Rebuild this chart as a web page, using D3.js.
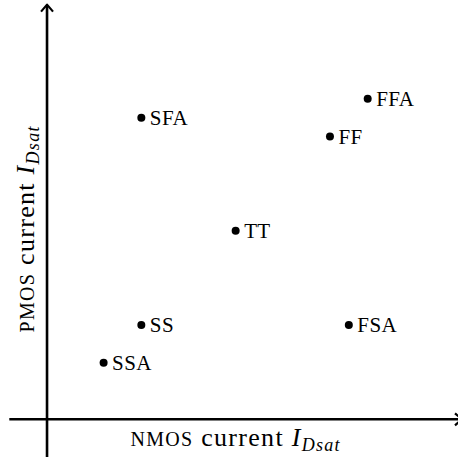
<!DOCTYPE html>
<html>
<head>
<meta charset="utf-8">
<script src="https://cdn.jsdelivr.net/npm/d3@7/dist/d3.min.js"></script>
<style>
  html, body { margin: 0; padding: 0; background: #fff; }
  svg { display: block; }
  text { font-family: "Liberation Serif", "DejaVu Serif", serif; fill: #000; }
</style>
</head>
<body>
<svg id="chart" width="458" height="458"></svg>
<script>
// Process corners: NMOS vs PMOS saturation current (arbitrary units)
const corners = ["SSA", "SS", "SFA", "TT", "FSA", "FF", "FFA"];
const nmosCurrent = [0.6, 1.0, 1.0, 2.0, 3.2, 3.0, 3.4];
const pmosCurrent = [0.6, 1.0, 3.2, 2.0, 1.0, 3.0, 3.4];
const axisDomain = [-0.4, 4.4];

const svg = d3.select("#chart");
const x = d3.scaleLinear().domain(axisDomain).range([9.3, 462]);
const y = d3.scaleLinear().domain(axisDomain).range([457, 4.6]);

const points = corners.map((c, i) => ({ name: c, nx: nmosCurrent[i], py: pmosCurrent[i] }));

const axes = svg.append("g")
  .attr("stroke", "#000")
  .attr("stroke-width", 2.6)
  .attr("fill", "none")
  .attr("stroke-linecap", "butt");

// horizontal axis with open arrowhead
axes.append("line")
  .attr("x1", x(axisDomain[0])).attr("x2", x(axisDomain[1]) - 1.5)
  .attr("y1", y(0)).attr("y2", y(0));
axes.append("path")
  .attr("stroke-linejoin", "round")
  .attr("stroke-width", 2.2)
  .attr("d", `M${x(axisDomain[1]) - 7},${y(0) - 6} L${x(axisDomain[1])},${y(0)} L${x(axisDomain[1]) - 7},${y(0) + 6}`);

// vertical axis with open arrowhead
axes.append("line")
  .attr("x1", x(0)).attr("x2", x(0))
  .attr("y1", y(axisDomain[0])).attr("y2", y(axisDomain[1]) + 1.5);
axes.append("path")
  .attr("stroke-linejoin", "round")
  .attr("stroke-width", 2.2)
  .attr("d", `M${x(0) - 6},${y(axisDomain[1]) + 7} L${x(0)},${y(axisDomain[1])} L${x(0) + 6},${y(axisDomain[1]) + 7}`);

// corner markers
const g = svg.append("g");
g.selectAll("circle").data(points).join("circle")
  .attr("cx", d => x(d.nx))
  .attr("cy", d => y(d.py))
  .attr("r", 4)
  .attr("fill", "#000");

g.selectAll("text.corner").data(points).join("text")
  .attr("class", "corner")
  .attr("x", d => x(d.nx) + 8.5)
  .attr("y", d => y(d.py) + 7)
  .attr("font-size", 21)
  .attr("letter-spacing", 0.4)
  .text(d => d.name);

// axis titles: small-caps device name, then italic I with Dsat subscript
function axisTitle(sel, device) {
  sel.append("tspan").attr("font-size", 20).text(device);
  sel.append("tspan").text(" current ");
  sel.append("tspan").attr("font-style", "italic").text("I");
  sel.append("tspan").attr("font-style", "italic").attr("font-size", 18).attr("dy", 4.5).text("Dsat");
}

const xMid = (x(axisDomain[0]) + x(axisDomain[1])) / 2;
const yMid = (y(axisDomain[0]) + y(axisDomain[1])) / 2;

svg.append("text")
  .attr("x", xMid)
  .attr("y", 446)
  .attr("text-anchor", "middle")
  .attr("font-size", 26)
  .attr("letter-spacing", 1.3)
  .call(axisTitle, "NMOS");

svg.append("text")
  .attr("transform", `translate(34,${yMid - 2}) rotate(-90)`)
  .attr("text-anchor", "middle")
  .attr("font-size", 26)
  .attr("letter-spacing", 1.3)
  .call(axisTitle, "PMOS");
</script>
</body>
</html>
